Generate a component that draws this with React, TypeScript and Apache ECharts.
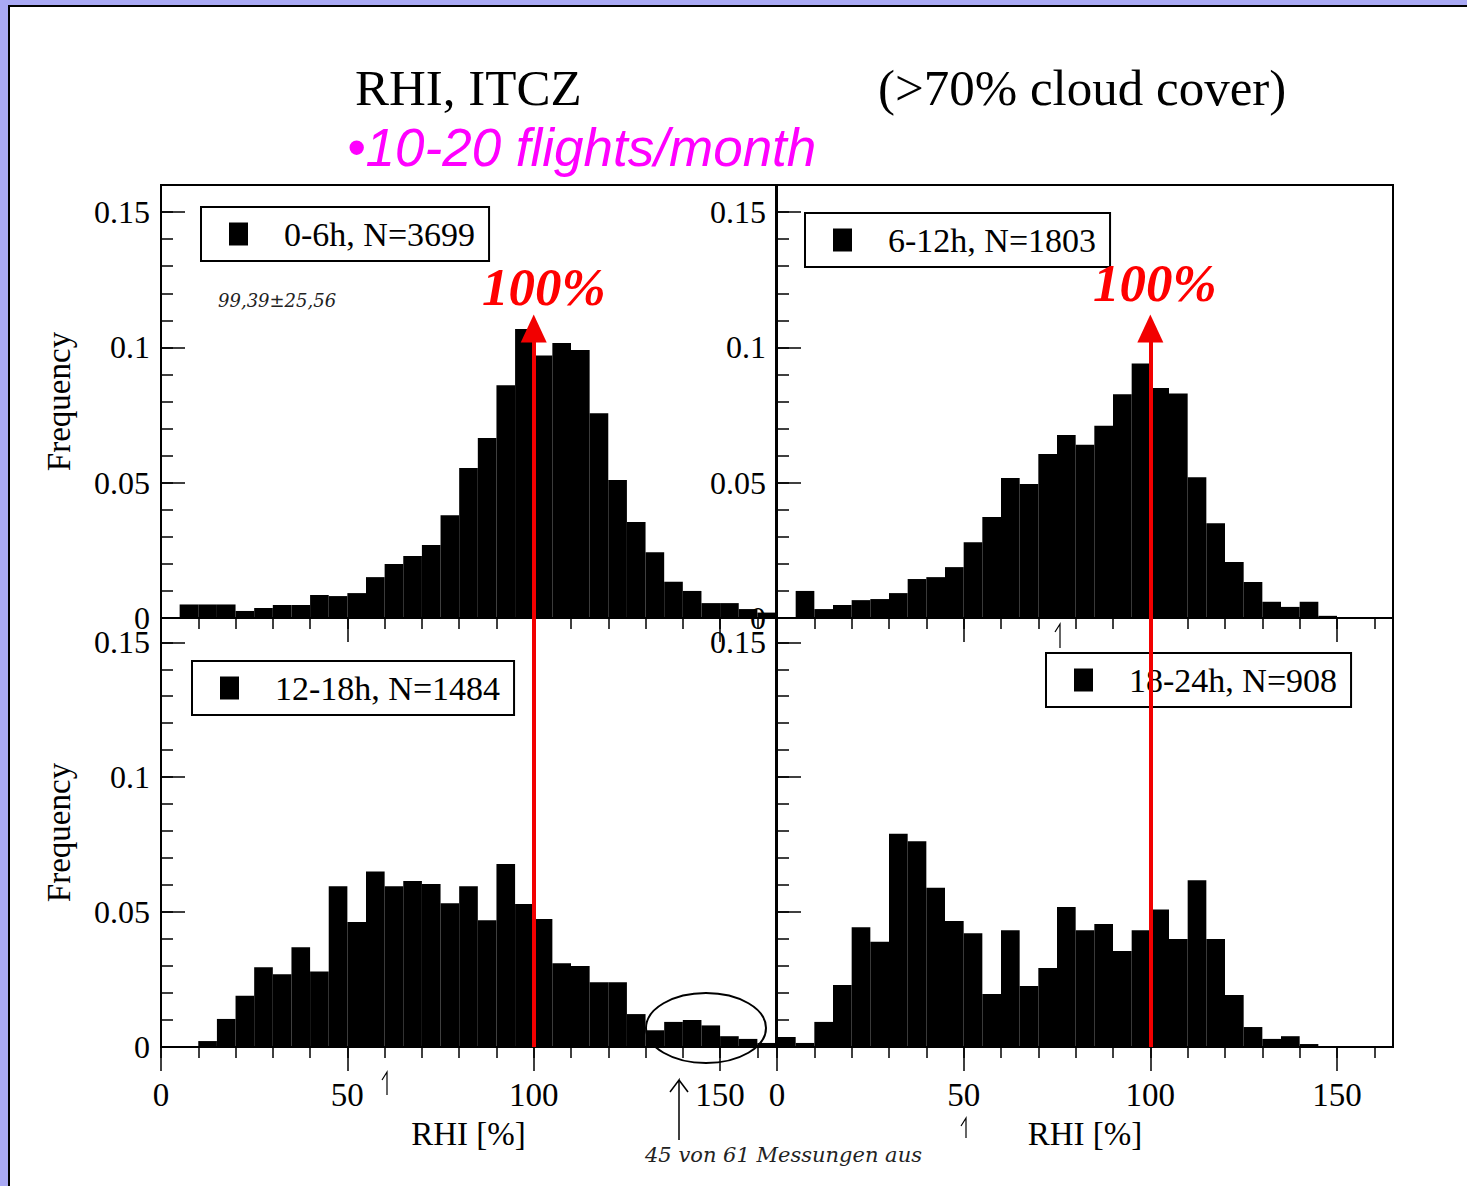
import React, { useEffect, useRef } from 'react';
import * as echarts from 'echarts';

// ---- data ----
const BIN_STARTS = [0, 5, 10, 15, 20, 25, 30, 35, 40, 45, 50, 55, 60, 65, 70, 75, 80, 85, 90, 95, 100, 105, 110, 115, 120, 125, 130, 135, 140, 145, 150, 155, 160];
const BIN_WIDTH = 5;

const FREQ_00_06 = [0, 0.005, 0.005, 0.005, 0.0026, 0.0037, 0.0048, 0.0048, 0.0085, 0.0081, 0.0092, 0.0151, 0.020, 0.0229, 0.027, 0.038, 0.0554, 0.0665, 0.086, 0.1068, 0.097, 0.1016, 0.099, 0.0757, 0.051, 0.0355, 0.0243, 0.0134, 0.010, 0.0055, 0.0055, 0.0033, 0.002];
const FREQ_06_12 = [0, 0.010, 0.0033, 0.0048, 0.0066, 0.007, 0.0092, 0.0144, 0.0151, 0.0188, 0.028, 0.0373, 0.0517, 0.0495, 0.0606, 0.0676, 0.064, 0.071, 0.0827, 0.094, 0.085, 0.083, 0.052, 0.035, 0.0207, 0.0133, 0.006, 0.0041, 0.006, 0.0008, 0, 0, 0];
const FREQ_12_18 = [0, 0, 0.0022, 0.0104, 0.019, 0.0296, 0.027, 0.037, 0.028, 0.0596, 0.0463, 0.065, 0.0596, 0.0615, 0.0604, 0.0533, 0.0596, 0.047, 0.0678, 0.053, 0.0474, 0.031, 0.030, 0.024, 0.024, 0.0122, 0.0062, 0.0093, 0.010, 0.008, 0.004, 0.003, 0.0015];
const FREQ_18_24 = [0.0037, 0.0015, 0.0093, 0.023, 0.0444, 0.039, 0.079, 0.0763, 0.059, 0.0467, 0.0422, 0.0196, 0.0433, 0.0226, 0.0293, 0.0519, 0.0433, 0.0456, 0.0356, 0.0433, 0.051, 0.040, 0.0618, 0.040, 0.0193, 0.0074, 0.003, 0.004, 0.0011, 0, 0, 0, 0];

const SERIES_NAMES = ['0-6h, N=3699', '6-12h, N=1803', '12-18h, N=1484', '18-24h, N=908'];
const PANEL_VALUES = [FREQ_00_06, FREQ_06_12, FREQ_12_18, FREQ_18_24];

const X_MINOR_TICKS = [0, 10, 20, 30, 40, 50, 60, 70, 80, 90, 100, 110, 120, 130, 140, 150, 160];
const X_MAJOR_TICKS = [0, 50, 100, 150];
const Y_MINOR_TICKS = [0, 0.01, 0.02, 0.03, 0.04, 0.05, 0.06, 0.07, 0.08, 0.09, 0.1, 0.11, 0.12, 0.13, 0.14, 0.15];
const Y_MAJOR_TICKS = [0, 0.05, 0.1, 0.15];
const Y_LABELS_BY_PANEL = [[0, 0.05, 0.1, 0.15], [0, 0.05, 0.1, 0.15], [0, 0.05, 0.1, 0.15], [0.15]];

const X_MAX = 165;
const Y_MAX_TOP = 0.16;
const Y_MAX_BOTTOM = 0.159;
const SATURATION_LINE = 100;
const ARROW_TOP = 0.107;

const TITLE_LEFT = 'RHI, ITCZ';
const TITLE_RIGHT = '(>70% cloud cover)';
const SUBTITLE = '•10-20 flights/month';
const X_NAME = 'RHI [%]';
const Y_NAME = 'Frequency';
const NOTE_TOP = '99,39±25,56';
const NOTE_BOTTOM = '45 von 61 Messungen aus';

const SERIF = '"Liberation Serif", "Times New Roman", serif';

// ---- layout ----
const GRIDS = [
  { left: 161, top: 185, width: 615, height: 433 },
  { left: 777, top: 185, width: 616, height: 433 },
  { left: 161, top: 618, width: 615, height: 429 },
  { left: 777, top: 618, width: 616, height: 429 },
];
const LEGEND_POS = [
  { left: 201, top: 207 },
  { left: 805, top: 213 },
  { left: 192, top: 661 },
  { left: 1046, top: 653 },
];

function buildOption() {
  const xAxis: any[] = [];
  const yAxis: any[] = [];
  const series: any[] = [];
  const legend: any[] = [];

  GRIDS.forEach((_, g) => {
    const bottom = g >= 2;
    const yMax = bottom ? Y_MAX_BOTTOM : Y_MAX_TOP;
    xAxis.push({
      type: 'value', gridIndex: g, min: 0, max: X_MAX, position: 'bottom',
      axisLine: { show: true, lineStyle: { color: '#000', width: 2 } },
      axisTick: { show: true, inside: false, length: 11, customValues: X_MINOR_TICKS, lineStyle: { color: '#000', width: 1.5 } },
      axisLabel: { show: false },
      splitLine: { show: false },
    });
    xAxis.push({
      type: 'value', gridIndex: g, min: 0, max: X_MAX, position: 'bottom',
      axisLine: { show: false },
      axisTick: { show: true, inside: false, length: 24, customValues: X_MAJOR_TICKS, lineStyle: { color: '#000', width: 1.5 } },
      axisLabel: {
        show: bottom, customValues: X_MAJOR_TICKS, margin: 31,
        fontFamily: SERIF, fontSize: 33, color: '#000',
      },
      splitLine: { show: false },
      name: bottom ? X_NAME : '', nameLocation: 'middle', nameGap: 70,
      nameTextStyle: { fontFamily: SERIF, fontSize: 33, color: '#000' },
    });
    yAxis.push({
      type: 'value', gridIndex: g, min: 0, max: yMax, position: 'left',
      axisLine: { show: true, lineStyle: { color: '#000', width: 2 } },
      axisTick: { show: true, inside: true, length: 12, customValues: Y_MINOR_TICKS, lineStyle: { color: '#000', width: 1.5 } },
      axisLabel: { show: false },
      splitLine: { show: false },
    });
    yAxis.push({
      type: 'value', gridIndex: g, min: 0, max: yMax, position: 'left',
      axisLine: { show: false },
      axisTick: { show: true, inside: true, length: 24, customValues: Y_MAJOR_TICKS, lineStyle: { color: '#000', width: 1.5 } },
      axisLabel: {
        show: true, customValues: Y_LABELS_BY_PANEL[g], margin: 11,
        fontFamily: SERIF, fontSize: 32, lineHeight: 23, color: '#000',
        formatter: (v: number) => String(Math.round(v * 100) / 100),
      },
      splitLine: { show: false },
      name: g % 2 === 0 ? Y_NAME : '', nameLocation: 'middle', nameGap: 86,
      nameTextStyle: { fontFamily: SERIF, fontSize: 33, color: '#000' },
    });

    const vals = PANEL_VALUES[g];
    const data = BIN_STARTS.map((b, i) => [b, vals[i]]);
    const s: any = {
      type: 'custom',
      name: SERIES_NAMES[g],
      xAxisIndex: 2 * g,
      yAxisIndex: 2 * g,
      itemStyle: { color: '#000' },
      encode: { x: 0, y: 1 },
      data,
      renderItem: (params: any, api: any) => {
        const x0 = api.value(0);
        const y = api.value(1);
        if (!y) return null;
        const p0 = api.coord([x0, y]);
        const p1 = api.coord([x0 + BIN_WIDTH, 0]);
        return {
          type: 'rect',
          shape: { x: p0[0], y: p0[1], width: p1[0] - p0[0], height: p1[1] - p0[1] },
          style: { fill: '#000' },
        };
      },
    };
    if (g === 0 || g === 1) {
      s.markLine = {
        silent: true, animation: false,
        symbol: ['triangle', 'none'], symbolSize: [26, 28],
        lineStyle: { color: '#f20000', width: 4, type: 'solid' },
        label: { show: false },
        data: [[{ coord: [SATURATION_LINE, ARROW_TOP] }, { coord: [SATURATION_LINE, 0] }]],
      };
    } else {
      s.markLine = {
        silent: true, animation: false,
        symbol: ['none', 'none'],
        lineStyle: { color: '#f20000', width: 4, type: 'solid' },
        label: { show: false },
        data: [[{ coord: [SATURATION_LINE, Y_MAX_BOTTOM] }, { coord: [SATURATION_LINE, 0] }]],
      };
    }
    series.push(s);

    legend.push({
      show: true,
      data: [SERIES_NAMES[g]],
      left: LEGEND_POS[g].left, top: LEGEND_POS[g].top,
      orient: 'horizontal',
      borderColor: '#000', borderWidth: 2,
      backgroundColor: '#fff',
      padding: [10, 14, 10, 28],
      itemWidth: 19, itemHeight: 23,
      icon: 'rect',
      selectedMode: false,
      textStyle: { fontFamily: SERIF, fontSize: 34, color: '#000', padding: [0, 0, 0, 31] },
    });
  });

  const graphic: any[] = [
    { type: 'text', x: 355, y: 88, style: { text: TITLE_LEFT, font: `51px ${SERIF}`, fill: '#000', verticalAlign: 'middle' } },
    { type: 'text', x: 878, y: 88, style: { text: TITLE_RIGHT, font: `51px ${SERIF}`, fill: '#000', verticalAlign: 'middle' } },
    { type: 'text', x: 347, y: 147, style: { text: SUBTITLE, font: `italic 53px "Liberation Sans", Arial, sans-serif`, fill: '#ff00ff', verticalAlign: 'middle' } },
    { type: 'text', x: 482, y: 287, z: 100, style: { text: '100%', font: `italic bold 53px ${SERIF}`, fill: '#ff0000', verticalAlign: 'middle' } },
    { type: 'text', x: 1093, y: 283, z: 100, style: { text: '100%', font: `italic bold 53px ${SERIF}`, fill: '#ff0000', verticalAlign: 'middle' } },
    { type: 'text', x: 218, y: 300, style: { text: NOTE_TOP, font: `italic 18px "DejaVu Serif", serif`, fill: '#222', verticalAlign: 'middle' } },
    { type: 'text', x: 645, y: 1155, style: { text: NOTE_BOTTOM, font: `italic 21px "DejaVu Serif", serif`, fill: '#222', verticalAlign: 'middle' } },
    { type: 'ellipse', z: 100, shape: { cx: 706, cy: 1028, rx: 60, ry: 35 }, style: { fill: 'none', stroke: '#000', lineWidth: 2 } },
    { type: 'polyline', z: 100, shape: { points: [[679, 1140], [679, 1080], [670, 1092]] }, style: { stroke: '#000', fill: 'none', lineWidth: 1.5 } },
    { type: 'polyline', z: 100, shape: { points: [[679, 1080], [688, 1092]] }, style: { stroke: '#000', fill: 'none', lineWidth: 1.5 } },
    { type: 'polyline', z: 100, shape: { points: [[387, 1095], [387, 1072], [382, 1080]] }, style: { stroke: '#000', fill: 'none', lineWidth: 1.2 } },
    { type: 'polyline', z: 100, shape: { points: [[966, 1138], [966, 1118], [961, 1126]] }, style: { stroke: '#000', fill: 'none', lineWidth: 1.2 } },
    { type: 'polyline', z: 100, shape: { points: [[1060, 648], [1060, 624], [1055, 632]] }, style: { stroke: '#000', fill: 'none', lineWidth: 1.2 } },
  ];

  return {
    animation: false,
    backgroundColor: 'transparent',
    grid: GRIDS.map((g) => ({ ...g, show: true, borderColor: '#000', borderWidth: 2, backgroundColor: 'transparent', containLabel: false })),
    xAxis,
    yAxis,
    series,
    legend,
    graphic,
  };
}

export default function App() {
  const ref = useRef<HTMLDivElement>(null);
  useEffect(() => {
    if (!ref.current) return;
    const chart = echarts.init(ref.current, undefined, { renderer: 'svg' });
    chart.setOption(buildOption() as any);
    return () => chart.dispose();
  }, []);
  return (
    <div style={{ position: 'fixed', left: 0, top: 0, width: 1467, height: 1186, background: '#a9a9f4', overflow: 'hidden' }}>
      <div style={{ position: 'absolute', left: 8, top: 5, width: 1480, height: 1200, background: '#fff', borderLeft: '2px solid #000', borderTop: '2px solid #000' }} />
      <div ref={ref} style={{ position: 'absolute', left: 0, top: 0, width: 1467, height: 1186 }} />
    </div>
  );
}
